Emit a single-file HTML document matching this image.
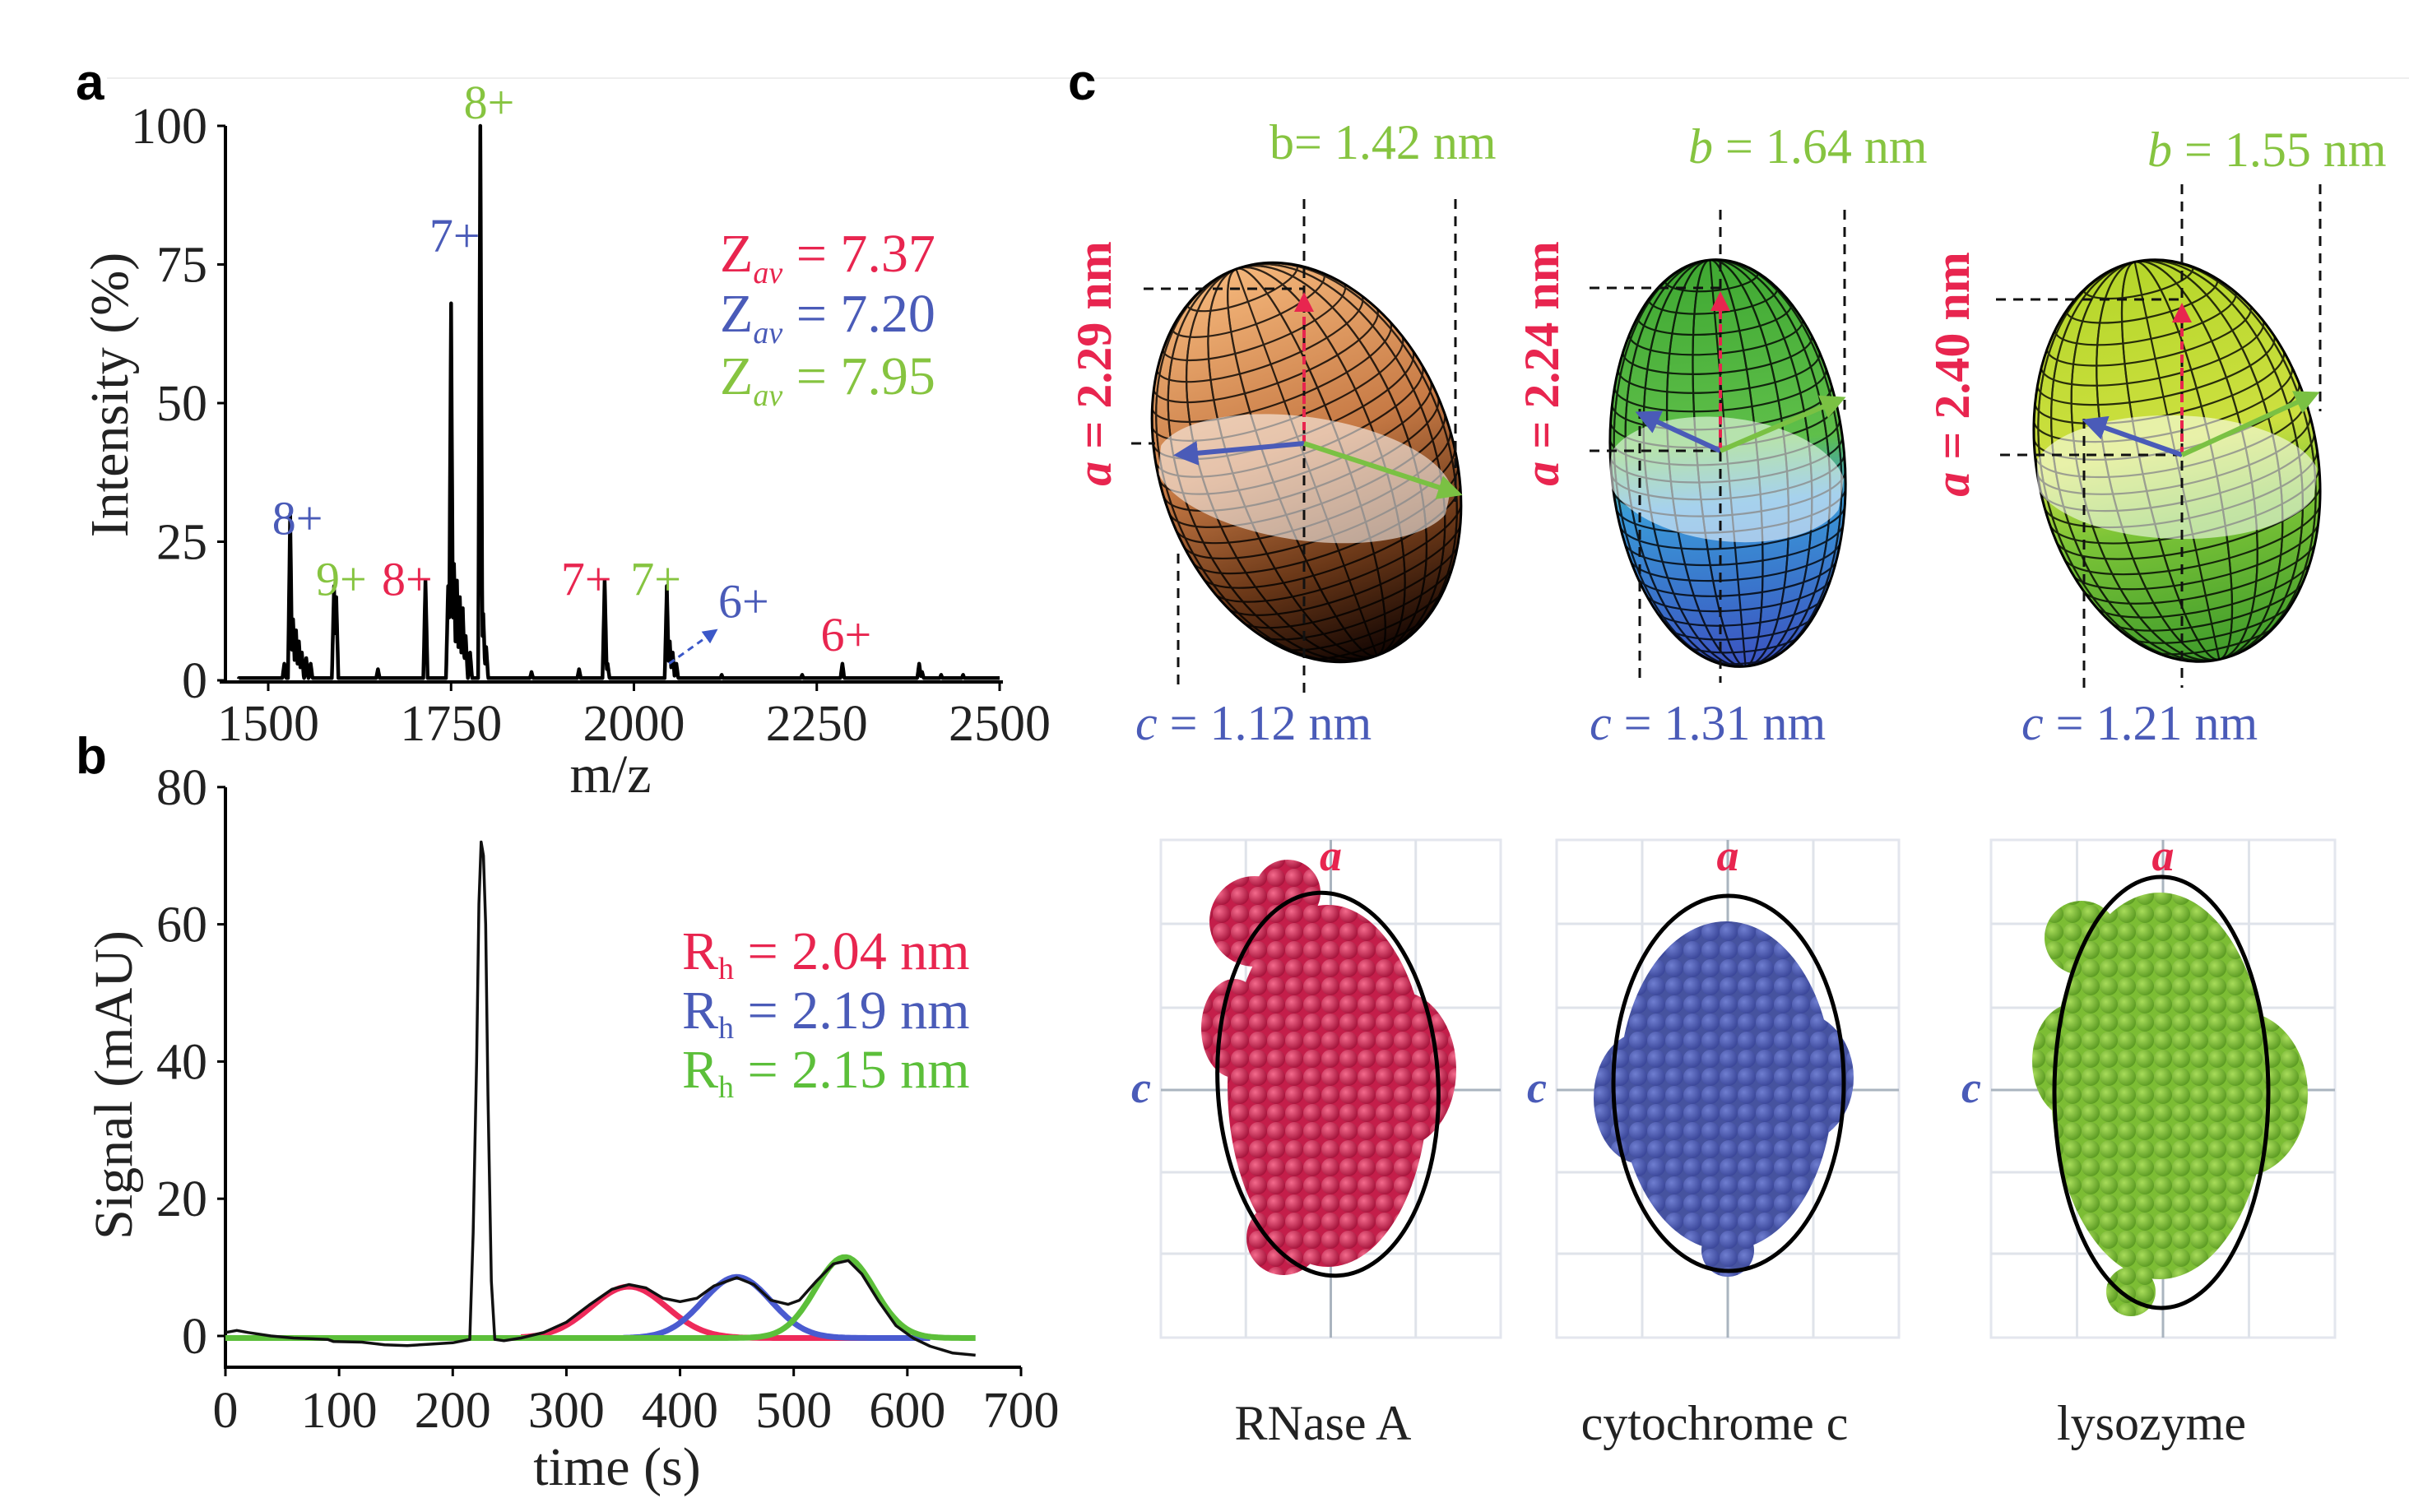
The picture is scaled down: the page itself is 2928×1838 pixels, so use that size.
<!DOCTYPE html>
<html><head><meta charset="utf-8"><style>
html,body{margin:0;padding:0;background:#fff;}
svg{display:block;}
text{font-family:"Liberation Serif",serif;}
.lbl{font-family:"Liberation Sans",sans-serif;font-weight:bold;}
</style></head><body>
<svg id="fig" width="2928" height="1838" viewBox="0 0 2928 1838" xmlns="http://www.w3.org/2000/svg">
<defs>
<marker id="arR" markerWidth="6" markerHeight="6" refX="5" refY="3" orient="auto"><path d="M0,0 L6,3 L0,6 z" fill="#e8254f"/></marker>
<marker id="arB" markerWidth="5" markerHeight="5" refX="4" refY="2.5" orient="auto"><path d="M0,0 L5,2.5 L0,5 z" fill="#4a5bb8"/></marker>
<marker id="arG" markerWidth="5" markerHeight="5" refX="4" refY="2.5" orient="auto"><path d="M0,0 L5,2.5 L0,5 z" fill="#7ac143"/></marker>
<marker id="arB2" markerWidth="6" markerHeight="6" refX="5" refY="3" orient="auto"><path d="M0,0 L6,3 L0,6 z" fill="#3b58c8"/></marker>
<linearGradient id="g1" x1="0" y1="0" x2="0" y2="1"><stop offset="0" stop-color="#f4b67a"/><stop offset="0.45" stop-color="#c77a45"/><stop offset="0.75" stop-color="#6b3818"/><stop offset="1" stop-color="#120502"/></linearGradient>
<linearGradient id="g2" x1="0" y1="0" x2="0" y2="1"><stop offset="0" stop-color="#3fa832"/><stop offset="0.45" stop-color="#5fbf4a"/><stop offset="0.6" stop-color="#3a9ad8"/><stop offset="1" stop-color="#3b52c0"/></linearGradient>
<linearGradient id="g3" x1="0" y1="0" x2="0" y2="1"><stop offset="0" stop-color="#b5d62a"/><stop offset="0.45" stop-color="#cde040"/><stop offset="0.65" stop-color="#7cc437"/><stop offset="1" stop-color="#3e9b2b"/></linearGradient>
<radialGradient id="sr" cx="0.35" cy="0.35" r="0.7"><stop offset="0" stop-color="#f46a8c"/><stop offset="1" stop-color="#a4123a"/></radialGradient>
<radialGradient id="sb" cx="0.35" cy="0.35" r="0.7"><stop offset="0" stop-color="#6f7ed0"/><stop offset="1" stop-color="#3a4699"/></radialGradient>
<radialGradient id="sg" cx="0.35" cy="0.35" r="0.7"><stop offset="0" stop-color="#a8dc5a"/><stop offset="1" stop-color="#5a9a22"/></radialGradient>
<pattern id="pr" width="22" height="22" patternUnits="userSpaceOnUse"><rect width="22" height="22" fill="#c41e4a"/><circle cx="11" cy="11" r="11" fill="url(#sr)"/></pattern>
<pattern id="pb" width="22" height="22" patternUnits="userSpaceOnUse"><rect width="22" height="22" fill="#46539f"/><circle cx="11" cy="11" r="11" fill="url(#sb)"/></pattern>
<pattern id="pg" width="22" height="22" patternUnits="userSpaceOnUse"><rect width="22" height="22" fill="#7cbd34"/><circle cx="11" cy="11" r="11" fill="url(#sg)"/></pattern>
</defs>
<line x1="130" y1="95" x2="2928" y2="95" stroke="#eee" stroke-width="2"/>
<text class="lbl" x="92" y="121" font-size="62">a</text>
<text class="lbl" x="92" y="940" font-size="62">b</text>
<text class="lbl" x="1298" y="121" font-size="62">c</text>
<g id="pa"></g>
<g id="pbb"></g>
<g id="pc"></g>
</svg>
<script>
// ---------- Panel a data ----------
const mzTicks=[1500,1750,2000,2250,2500];
const intTicks=[0,25,50,75,100];
const peakMz=[1522,1530,1534,1538,1542,1546,1552,1558,1590,1593,1650,1715,1746,1750,1754,1758,1762,1766,1770,1776,1790,1794,1798,1860,1925,1960,1964,2045,2049,2053,2058,2120,2230,2285,2390,2394,2420,2450];
const peakInt=[3,30,11,9,7,5,4,3,17,15,2,18,17,68,21,18,15,13,8,5,100,12,6,1.5,2,18,3,17,7,5,3,1,1,3,3,1.5,1,1];
const chargeLabels=["8+","7+","8+","9+","8+","7+","7+","6+","6+"];
const chargeMz=[1802,1755,1540,1600,1690,1935,2030,2150,2290];
const chargeY=[104,80,29,18,18,18,18,14,8];
const chargeCol=["#86c440","#4a5bb8","#4a5bb8","#86c440","#e8254f","#e8254f","#86c440","#4a5bb8","#e8254f"];
// ---------- Panel b data ----------
const tTicks=[0,100,200,300,400,500,600,700];
const sTicks=[0,20,40,60,80];
const traceT=[0,10,20,40,60,90,95,120,140,160,180,200,215,218,221,223,225,227,229,231,234,237,245,260,280,300,320,340,355,370,385,400,415,430,450,465,480,495,505,520,535,548,560,575,590,605,620,640,660];
const traceV=[0.5,0.8,0.5,0,-0.3,-0.5,-0.8,-0.9,-1.3,-1.4,-1.2,-1,-0.5,15,40,63,72,70,60,35,8,-0.5,-0.7,-0.3,0.5,2,4.5,6.8,7.5,7,5.5,5,5.5,7.3,8.5,7.5,5.2,4.6,5.2,8,10.5,11,9,5,1.5,-0.3,-1.5,-2.5,-2.8];
const fitCenter=[355,450,545];
const fitHeight=[7.5,8.9,11.8];
const fitWidth=[33,30,26];
const fitStart=[260,350,0];
const fitEnd=[600,620,660];
const fitColor=["#ee2a5a","#4a5bd0","#5cbf3a"];
const fitName=["fit-rnase","fit-cytochrome","fit-lysozyme"];

const NS="http://www.w3.org/2000/svg";
function mk(tag,attrs,parent,txt){const e=document.createElementNS(NS,tag);for(const k in attrs)e.setAttribute(k,attrs[k]);if(txt!==undefined)e.textContent=txt;parent.appendChild(e);return e;}

// ===== Panel a =====
(function(){
const g=document.getElementById('pa');
const xa=m=>326+(m-1500)*0.889, ya=v=>827-v*6.74;
let ax=mk('path',{d:`M274,${ya(100)} L274,829 M267,829 L1219,829`,stroke:'#000','stroke-width':4,fill:'none'},g);


intTicks.forEach(v=>{
 let l=mk('line',{x1:264,x2:274,y1:ya(v),y2:ya(v),stroke:'#000','stroke-width':3},g);
 
 
 let t=mk('text',{x:252,y:ya(v)+21,'font-size':62,'text-anchor':'end',fill:'#222'},g,String(v));
 
 
});
mzTicks.forEach(m=>{
 let l=mk('line',{x1:xa(m),x2:xa(m),y1:829,y2:840,stroke:'#000','stroke-width':3},g);
 
 
 let t=mk('text',{x:xa(m),y:900,'font-size':62,'text-anchor':'middle',fill:'#222'},g,String(m));
 
 
});
let yt=mk('text',{x:0,y:0,'font-size':66,'text-anchor':'middle',transform:'translate(155,480) rotate(-90)',fill:'#222'},g,'Intensity (%)');


let xt=mk('text',{x:742,y:963,'font-size':66,'text-anchor':'middle',fill:'#222'},g,'m/z');


let d=`M${xa(1460)},${ya(0.3)}`;
for(let m=1460;m<=2500;m+=0.5){
 let v=0.4;
 for(let i=0;i<peakMz.length;i++){const dd=Math.abs(m-peakMz[i]);if(dd<3)v=Math.max(v,peakInt[i]*(1-dd/3));}
 d+=` L${xa(m).toFixed(1)},${ya(v).toFixed(1)}`;
}
let sp=mk('path',{d:d,stroke:'#000','stroke-width':4.5,fill:'none','stroke-linejoin':'round'},g);


chargeLabels.forEach((s,i)=>{
 let t=mk('text',{x:xa(chargeMz[i]),y:ya(chargeY[i])+18,'font-size':58,'text-anchor':'middle',fill:chargeCol[i]},g,s);
 
 
});
let ar=mk('line',{x1:xa(2048),y1:ya(3),x2:xa(2112),y2:ya(9),stroke:'#3b58c8','stroke-width':3,'stroke-dasharray':'8,6','marker-end':'url(#arB2)'},g);


const zv=[["#e8254f","7.37",330],["#4a5bb8","7.20",403],["#86c440","7.95",479]];
zv.forEach(z=>{
 let t=mk('text',{x:875,y:z[2],'font-size':66,fill:z[0]},g);
 
 
 mk('tspan',{},t,'Z');
 mk('tspan',{'font-size':38,'font-style':'italic',dy:14},t,'av');
 mk('tspan',{dy:-14},t,' = '+z[1]);
});
})();

// ===== Panel b =====
(function(){
const g=document.getElementById('pbb');
const xb=t=>274+t*1.3814, yb=v=>1624-v*8.34;
let ax=mk('path',{d:`M274,957 L274,1662 L1241,1662`,stroke:'#000','stroke-width':4,fill:'none'},g);


sTicks.forEach(v=>{
 let l=mk('line',{x1:264,x2:274,y1:yb(v),y2:yb(v),stroke:'#000','stroke-width':3},g);
 
 
 let t=mk('text',{x:252,y:yb(v)+21,'font-size':62,'text-anchor':'end',fill:'#222'},g,String(v));
 
 
});
tTicks.forEach(v=>{
 let l=mk('line',{x1:xb(v),x2:xb(v),y1:1662,y2:1673,stroke:'#000','stroke-width':3},g);
 
 
 let t=mk('text',{x:xb(v),y:1735,'font-size':62,'text-anchor':'middle',fill:'#222'},g,String(v));
 
 
});
let yt=mk('text',{x:0,y:0,'font-size':66,'text-anchor':'middle',transform:'translate(160,1319) rotate(-90)',fill:'#222'},g,'Signal (mAU)');


let xt=mk('text',{x:750,y:1805,'font-size':66,'text-anchor':'middle',fill:'#222'},g,'time (s)');


fitCenter.forEach((c,i)=>{
 let pts=[];
 for(let t=fitStart[i];t<=fitEnd[i];t+=3){const v=fitHeight[i]*Math.exp(-((t-c)**2)/(2*fitWidth[i]**2))-0.3;pts.push(xb(t).toFixed(1)+','+yb(v).toFixed(1));}
 let p=mk('polyline',{points:pts.join(' '),fill:'none',stroke:fitColor[i],'stroke-width':7,'stroke-linejoin':'round'},g);
 
 
});
let pts=traceT.map((t,i)=>xb(t).toFixed(1)+','+yb(traceV[i]).toFixed(1));
let tr=mk('polyline',{points:pts.join(' '),fill:'none',stroke:'#111','stroke-width':3.5,'stroke-linejoin':'round'},g);


const rv=[["#e8254f","2.04",1178],["#4a5bb8","2.19",1250],["#5cbf3a","2.15",1322]];
rv.forEach(r=>{
 let t=mk('text',{x:829,y:r[2],'font-size':66,fill:r[0]},g);
 
 
 mk('tspan',{},t,'R');
 mk('tspan',{'font-size':38,dy:12},t,'h');
 mk('tspan',{dy:-12},t,' = '+r[1]+' nm');
});
})();

// ===== Panel c =====
(function(){
const g=document.getElementById('pc');
const ells=[
 {cx:1588,cy:562,rx:178,ry:250,rot:-20,fill:'url(#g1)',name:'rnase-ellipsoid'},
 {cx:2100,cy:563,rx:142,ry:248,rot:-5,fill:'url(#g2)',name:'cytochrome-ellipsoid'},
 {cx:2646,cy:560,rx:170,ry:247,rot:-12,fill:'url(#g3)',name:'lysozyme-ellipsoid'}];
ells.forEach((e,i)=>{
 const grp=mk('g',{transform:`translate(${e.cx},${e.cy}) rotate(${e.rot})`},g);
 
 
 const cid='cl'+i;
 const cp=mk('clipPath',{id:cid},grp);mk('ellipse',{cx:0,cy:0,rx:e.rx,ry:e.ry},cp);
 mk('ellipse',{cx:0,cy:0,rx:e.rx,ry:e.ry,fill:e.fill},grp);
 const mesh=mk('g',{'clip-path':`url(#${cid})`,stroke:'#000','stroke-width':2.2,fill:'none',opacity:0.8},grp);
 for(let k=1;k<12;k++){const a=k*Math.PI/12;mk('ellipse',{cx:0,cy:0,rx:Math.abs(e.rx*Math.cos(a)),ry:e.ry},mesh);}
 for(let k=-11;k<12;k++){const y=k*e.ry/12;const w=e.rx*Math.sqrt(1-(y/e.ry)**2);
  mk('path',{d:`M${-w},${y} A${w},${w*0.3} 0 0 0 ${w},${y}`},mesh);}
 mk('ellipse',{cx:0,cy:0,rx:e.rx,ry:e.ry,fill:'none',stroke:'#000','stroke-width':3},grp);
 mk('ellipse',{cx:0,cy:20,rx:e.rx+4,ry:75,fill:'#fff',opacity:0.55,'clip-path':`url(#${cid})`,transform:`rotate(${-e.rot*0.3+ (i==0?22:10)})`},grp);
});
const dash={stroke:'#111','stroke-width':3,'stroke-dasharray':'12,9'};
const dl=[[1585,242,1585,845],[1769,242,1769,610],[1432,673,1432,836],[1390,351,1585,351],[1375,539,1404,539],
 [2091,255,2091,830],[2242,255,2242,500],[1993,497,1993,827],[1932,350,2091,350],[1932,548,2091,548],
 [2652,224,2652,836],[2820,224,2820,500],[2533,509,2533,836],[2426,364,2652,364],[2431,553,2652,553]];
dl.forEach(l=>{let e=mk('line',Object.assign({x1:l[0],y1:l[1],x2:l[2],y2:l[3]},dash),g);
 
 });
const arrows=[[1585,539,1432,553,1772,600],[2091,548,1993,503,2238,485],[2652,553,2536,512,2814,479]];
const tops=[351,350,364];
arrows.forEach((a,i)=>{
 let r=mk('line',{x1:a[0],y1:a[1],x2:a[0],y2:tops[i]+8,stroke:'#e8254f','stroke-width':4,'stroke-dasharray':'10,6','marker-end':'url(#arR)'},g);
 
 
 let b=mk('line',{x1:a[0],y1:a[1],x2:a[2],y2:a[3],stroke:'#4a5bb8','stroke-width':6,'marker-end':'url(#arB)'},g);
 
 
 let gr=mk('line',{x1:a[0],y1:a[1],x2:a[4],y2:a[5],stroke:'#7ac143','stroke-width':6,'marker-end':'url(#arG)'},g);
 
 
});
const bl=[["b= 1.42 nm",1543,193,false],["b = 1.64 nm",2052,198,true],["b = 1.55 nm",2610,202,true]];
bl.forEach(b=>{let t=mk('text',{x:b[1],y:b[2],'font-size':60,fill:'#86c440'},g);
 
 
 mk('tspan',b[3]?{'font-style':'italic'}:{},t,'b');mk('tspan',{},t,b[0].slice(1));});
const cl=[["1.12",1380],["1.31",1932],["1.21",2457]];
cl.forEach(c=>{let t=mk('text',{x:c[1],y:899,'font-size':60,fill:'#4a5bb8'},g);
 
 
 mk('tspan',{'font-style':'italic'},t,'c');mk('tspan',{},t,' = '+c[0]+' nm');});
const al=[["2.29",1330,442],["2.24",1874,442],["2.40",2373,455]];
al.forEach(a=>{let t=mk('text',{x:0,y:0,'font-size':60,'font-weight':'bold','text-anchor':'middle',fill:'#e8254f',transform:`translate(${a[1]+20},${a[2]}) rotate(-90)`},g);
 
 
 mk('tspan',{'font-style':'italic'},t,'a');mk('tspan',{},t,' = '+a[0]+' nm');});
const boxes=[{x:1411,w:413,col:'url(#pr)',name:'RNase A',tx:1608,blob:[[1614,1320,122,220],[1525,1120,55,55],[1565,1085,40,40],[1700,1300,70,95],[1560,1505,45,45],[1500,1250,40,60]],el:[1614,1318,134,233,-3]},
 {x:1892,w:416,col:'url(#pb)',name:'cytochrome c',tx:2084,blob:[[2098,1320,130,200],[2185,1310,68,80],[1995,1335,58,80],[2100,1520,32,32]],el:[2101,1317,140,228,0]},
 {x:2420,w:418,col:'url(#pg)',name:'lysozyme',tx:2615,blob:[[2625,1320,132,235],[2530,1140,45,45],[2725,1330,80,100],[2590,1570,30,30],[2520,1290,50,70]],el:[2627,1328,130,262,0]}];
const hl=[1123,1225,1325,1425,1524];
boxes.forEach((b,i)=>{
 const grp=mk('g',{},g);
 
 
 mk('rect',{x:b.x,y:1021,width:b.w,height:605,fill:'none',stroke:'#e3e6ee','stroke-width':3},grp);
 for(let k=1;k<4;k++){const x=b.x+k*b.w/4;mk('line',{x1:x,x2:x,y1:1021,y2:1626,stroke:k==2?'#aab4bf':'#dfe3ea','stroke-width':3},grp);}
 hl.forEach((y,k)=>mk('line',{x1:b.x,x2:b.x+b.w,y1:y,y2:y,stroke:k==2?'#aab4bf':'#dfe3ea','stroke-width':3},grp));
 b.blob.forEach(q=>mk('ellipse',{cx:q[0],cy:q[1],rx:q[2],ry:q[3],fill:b.col},grp));
 const e=b.el;mk('ellipse',{cx:e[0],cy:e[1],rx:e[2],ry:e[3],fill:'none',stroke:'#000','stroke-width':5,transform:`rotate(${e[4]},${e[0]},${e[1]})`},grp);
 const cx=b.x+b.w/2;
 let ta=mk('text',{x:cx,y:1058,'font-size':54,'font-style':'italic','font-weight':'bold','text-anchor':'middle',fill:'#e8254f'},g,'a');
 
 
 let tc=mk('text',{x:b.x-12,y:1340,'font-size':54,'font-style':'italic','font-weight':'bold','text-anchor':'end',fill:'#4a5bb8'},g,'c');
 
 
 let tn=mk('text',{x:b.tx,y:1750,'font-size':60,'text-anchor':'middle',fill:'#222'},g,b.name);
 
 
});
})();
</script>
</body></html>
